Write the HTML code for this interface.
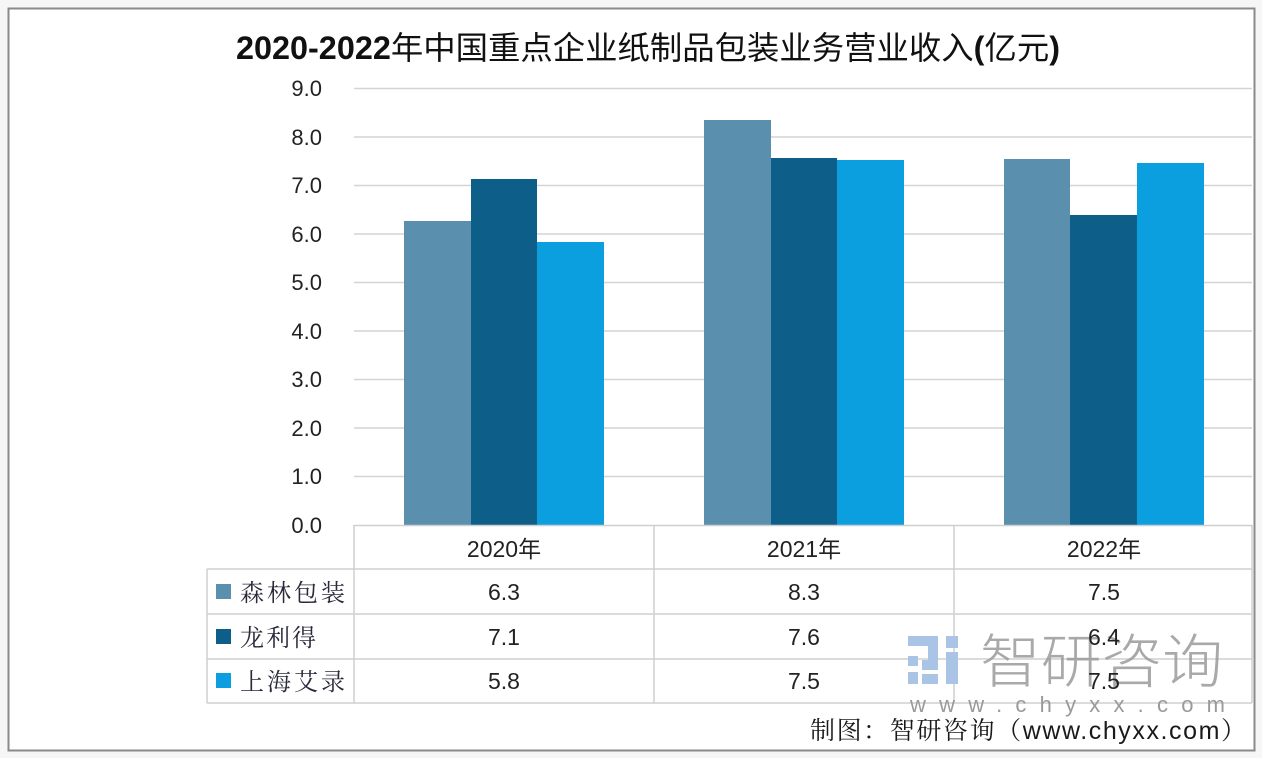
<!DOCTYPE html>
<html><head><meta charset="utf-8">
<style>
html,body{margin:0;padding:0;background:#fff;}
svg{display:block;}
</style></head>
<body>
<svg width="1262" height="758" viewBox="0 0 1262 758" xmlns="http://www.w3.org/2000/svg">
<rect x="0" y="0" width="1262" height="758" fill="#f6f6f6"/>
<rect x="8.5" y="8.5" width="1246" height="742" fill="#ffffff" stroke="#8a8a8a" stroke-width="2"/>
<text x="236" y="59" textLength="824" lengthAdjust="spacingAndGlyphs" font-family="'Liberation Sans','Noto Sans CJK SC',sans-serif" font-size="32" fill="#111"><tspan font-weight="bold">2020-2022</tspan>年中国重点企业纸制品包装业务营业收入<tspan font-weight="bold">(</tspan>亿元<tspan font-weight="bold">)</tspan></text>
<g stroke="#d4d4d4" stroke-width="1.5">
<line x1="354" y1="88.5" x2="1252" y2="88.5"/>
<line x1="354" y1="137" x2="1252" y2="137"/>
<line x1="354" y1="185.5" x2="1252" y2="185.5"/>
<line x1="354" y1="234" x2="1252" y2="234"/>
<line x1="354" y1="282.5" x2="1252" y2="282.5"/>
<line x1="354" y1="331" x2="1252" y2="331"/>
<line x1="354" y1="379.5" x2="1252" y2="379.5"/>
<line x1="354" y1="428" x2="1252" y2="428"/>
<line x1="354" y1="476.5" x2="1252" y2="476.5"/>
</g>
<g font-family="'Liberation Sans',sans-serif" font-size="22" fill="#222" text-anchor="end">
<text x="322" y="96">9.0</text>
<text x="322" y="145">8.0</text>
<text x="322" y="193">7.0</text>
<text x="322" y="242">6.0</text>
<text x="322" y="290">5.0</text>
<text x="322" y="339">4.0</text>
<text x="322" y="387">3.0</text>
<text x="322" y="436">2.0</text>
<text x="322" y="484">1.0</text>
<text x="322" y="533">0.0</text>
</g>
<!-- bars -->
<g>
<rect x="404" y="221" width="67" height="304" fill="#5b8fae"/>
<rect x="471" y="179" width="66" height="346" fill="#0d5f8a"/>
<rect x="537" y="242" width="67" height="283" fill="#0b9fdf"/>
<rect x="704" y="120" width="67" height="405" fill="#5b8fae"/>
<rect x="771" y="158" width="66" height="367" fill="#0d5f8a"/>
<rect x="837" y="160" width="67" height="365" fill="#0b9fdf"/>
<rect x="1004" y="159" width="66" height="366" fill="#5b8fae"/>
<rect x="1070" y="215" width="67" height="310" fill="#0d5f8a"/>
<rect x="1137" y="163" width="67" height="362" fill="#0b9fdf"/>
</g>
<!-- table -->
<g stroke="#cfcfcf" stroke-width="1.5" fill="none">
<line x1="354" y1="525.5" x2="1252" y2="525.5"/>
<line x1="207" y1="569" x2="1252" y2="569"/>
<line x1="207" y1="614" x2="1252" y2="614"/>
<line x1="207" y1="659" x2="1252" y2="659"/>
<line x1="207" y1="703" x2="1252" y2="703"/>
<line x1="207" y1="569" x2="207" y2="703"/>
<line x1="354" y1="525" x2="354" y2="703"/>
<line x1="654" y1="525" x2="654" y2="703"/>
<line x1="954" y1="525" x2="954" y2="703"/>
<line x1="1252" y1="525" x2="1252" y2="703"/>
</g>
<g font-family="'Liberation Sans','Noto Sans CJK SC',sans-serif" font-size="23" fill="#222" text-anchor="middle">
<text x="504" y="557">2020年</text>
<text x="804" y="557">2021年</text>
<text x="1104" y="557">2022年</text>
<text x="504" y="600">6.3</text>
<text x="804" y="600">8.3</text>
<text x="1104" y="600">7.5</text>
<text x="504" y="645">7.1</text>
<text x="804" y="645">7.6</text>
<text x="504" y="689">5.8</text>
<text x="804" y="689">7.5</text>
</g>
<rect x="216" y="584" width="15" height="15" fill="#5b8fae"/>
<rect x="216" y="629" width="15" height="15" fill="#0d5f8a"/>
<rect x="216" y="673" width="15" height="15" fill="#0b9fdf"/>
<g font-family="'Noto Serif CJK SC','Noto Sans CJK SC',serif" font-size="24" fill="#2a2a3a">
<text x="240" y="601" textLength="105" lengthAdjust="spacing">森林包装</text>
<text x="240" y="646" textLength="76" lengthAdjust="spacing">龙利得</text>
<text x="240" y="690" textLength="105" lengthAdjust="spacing">上海艾录</text>
</g>
<!-- watermark -->
<g fill="#a9c4e4">
<rect x="908" y="636" width="30" height="10"/>
<rect x="928" y="646" width="10" height="14"/>
<rect x="908" y="656" width="10" height="10"/>
<rect x="908" y="672" width="10" height="12"/>
<rect x="922" y="660" width="16" height="10"/>
<rect x="922" y="674" width="16" height="10"/>
<rect x="946" y="636" width="12" height="12"/>
<rect x="946" y="652" width="12" height="32"/>
</g>
<text x="980" y="682" textLength="243" lengthAdjust="spacingAndGlyphs" font-family="'Noto Sans CJK SC',sans-serif" font-size="58" font-weight="300" fill="#9a9a9a" fill-opacity="0.85">智研咨询</text>
<g font-family="'Liberation Sans','Noto Sans CJK SC',sans-serif" font-size="23" fill="#222" text-anchor="middle">
<text x="1104" y="645">6.4</text>
<text x="1104" y="689">7.5</text>
</g>
<text x="910" y="712" textLength="315" lengthAdjust="spacing" font-family="'Liberation Sans',sans-serif" font-size="22" fill="#9a9a9a">www.chyxx.com</text>
<text x="810" y="739" textLength="436" lengthAdjust="spacing" font-family="'Liberation Sans','Noto Serif CJK SC',serif" font-size="25" fill="#1a1a1a">制图：智研咨询（<tspan font-family="'Liberation Sans',sans-serif">www.chyxx.com</tspan>）</text>
</svg>
</body></html>
